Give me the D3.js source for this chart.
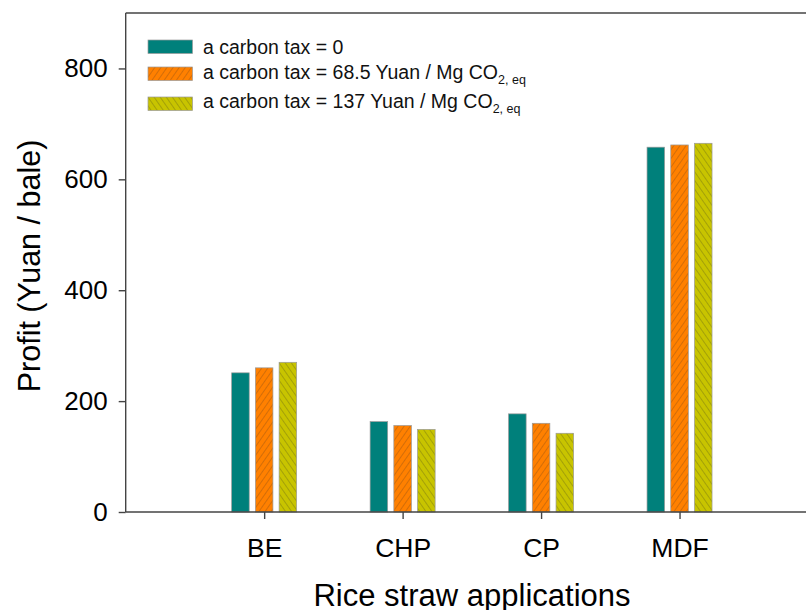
<!DOCTYPE html>
<html><head><meta charset="utf-8">
<script src="https://cdn.jsdelivr.net/npm/d3@7"></script>
<style>body{margin:0;background:#fff}svg{display:block;font-family:"Liberation Sans",Arial,sans-serif}</style>
</head><body><svg id="c" width="806" height="610"></svg>
<script>
const categories = ["BE","CHP","CP","MDF"];
const seriesNames = ["a carbon tax = 0","a carbon tax = 68.5 Yuan / Mg CO","a carbon tax = 137 Yuan / Mg CO"];
const valuesTax0   = [251, 163, 177, 658];
const valuesTax685 = [260, 156, 160, 662];
const valuesTax137 = [270, 149, 142, 665];
const yTicks = [0, 200, 400, 600, 800];

const series = [
  {name: seriesNames[0], values: valuesTax0, fill: "#00807b"},
  {name: seriesNames[1], values: valuesTax685, fill: "url(#hatchO)", sub: "2, eq"},
  {name: seriesNames[2], values: valuesTax137, fill: "url(#hatchY)", sub: "2, eq"}
];

const svg = d3.select("#c");
const plotLeft = 125.7, plotTop = 13, plotBottom = 512, plotRight = 818;

const defs = svg.append("defs");
function hatch(id, bg, line, dir){
  const p = defs.append("pattern").attr("id", id).attr("patternUnits","userSpaceOnUse")
    .attr("width", 5).attr("height", 5)
    .attr("patternTransform", `rotate(${dir})`);
  p.append("rect").attr("width",5).attr("height",5).attr("fill",bg);
  p.append("line").attr("x1",0).attr("y1",0).attr("x2",0).attr("y2",5)
    .attr("stroke", line).attr("stroke-width",1);
}
hatch("hatchO", "#ff8000", "#a85a10", 35);
hatch("hatchY", "#c8c400", "#7f7d10", -35);

const x = d3.scaleLinear().domain([0, 5]).range([plotLeft, plotRight]);
const y = d3.scaleLinear().domain([0, 900]).range([plotBottom, plotTop]);
const inner = d3.scaleBand().domain(d3.range(series.length)).range([-32.5, 32.5]).paddingInner(0.26);

// frame
svg.append("line").attr("x1", plotLeft).attr("x2", plotRight).attr("y1", plotTop).attr("y2", plotTop)
  .attr("stroke","#444").attr("stroke-width",1.4);

// bars
series.forEach((s, si) => {
  svg.append("g").selectAll("rect").data(s.values).join("rect")
    .attr("x", (d,i) => x(i+1) + inner(si))
    .attr("width", inner.bandwidth())
    .attr("y", d => y(d))
    .attr("height", d => y(0) - y(d))
    .attr("fill", s.fill)
    .attr("stroke", "#9a9a9a").attr("stroke-width", 0.7);
});

// y axis
const yAxis = d3.axisLeft(y).tickValues(yTicks).tickSize(7).tickPadding(11);
const gy = svg.append("g").attr("transform", `translate(${plotLeft},0)`).call(yAxis);
gy.select(".domain").attr("d", `M0,${plotTop}V${plotBottom}`).attr("stroke","#444").attr("stroke-width",1.4);
gy.selectAll(".tick line").attr("stroke","#444").attr("stroke-width",1.4);
gy.selectAll("text").attr("font-size", 26).attr("fill","#000").attr("font-family","Liberation Sans, Arial");

// x axis
const xAxis = d3.axisBottom(x).tickValues([1,2,3,4]).tickFormat(d => categories[d-1]).tickSize(7).tickPadding(19);
const gx = svg.append("g").attr("transform", `translate(0,${plotBottom})`).call(xAxis);
gx.select(".domain").attr("d", `M${plotLeft},0H${plotRight}`).attr("stroke","#444").attr("stroke-width",1.4);
gx.selectAll(".tick line").attr("stroke","#444").attr("stroke-width",1.4);
gx.selectAll("text").attr("font-size", 26.5).attr("fill","#000").attr("font-family","Liberation Sans, Arial");

// axis titles
svg.append("text").attr("x", 472).attr("y", 606).attr("text-anchor","middle")
  .attr("font-size", 31).text("Rice straw applications");
svg.append("text").attr("transform","translate(40,266) rotate(-90)").attr("text-anchor","middle")
  .attr("font-size", 30.5).text("Profit (Yuan / bale)");

// legend
const swY = [40, 67, 97];
const txY = [53.5, 79, 108];
series.forEach((s, i) => {
  svg.append("rect").attr("x",148).attr("y",swY[i]).attr("width",44.5).attr("height",13.5)
    .attr("fill", s.fill).attr("stroke","#9a9a9a").attr("stroke-width",0.7);
  const t = svg.append("text").attr("x",203).attr("y",txY[i]).attr("font-size",19.5).attr("fill","#111");
  t.append("tspan").text(s.name);
  if (s.sub) t.append("tspan").attr("dy",5).attr("font-size",12.5).text(s.sub);
});
</script></body></html>
